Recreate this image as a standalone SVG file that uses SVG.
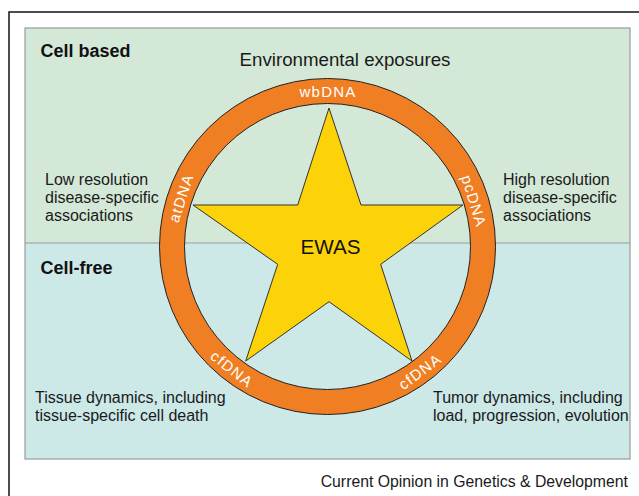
<svg xmlns="http://www.w3.org/2000/svg" width="639" height="496" viewBox="0 0 639 496">
<style>
.t{font-family:"Liberation Sans",Arial,sans-serif;fill:#1a1a1a;font-size:16px}
.b{font-weight:bold;font-size:18px;fill:#111}
.r{font-family:"Liberation Sans",Arial,sans-serif;fill:#ffffff;font-size:15px;letter-spacing:1.2px;text-anchor:middle}
</style>
<rect x="0" y="0" width="639" height="496" fill="#ffffff"/>
<rect x="9" y="12" width="700" height="600" fill="none" stroke="#222" stroke-width="1.6"/>
<g id="panels">
<rect x="25" y="28" width="605" height="215" fill="#d3e8d7"/>
<rect x="25" y="243" width="605" height="216" fill="#cce8e7"/>
<rect x="25" y="28" width="605" height="431" fill="none" stroke="#9a9a9a" stroke-width="1.2"/>
<line x1="25" y1="243" x2="630" y2="243" stroke="#9a9a9a" stroke-width="1.2"/>
</g>
<g id="ring">
<circle cx="327.5" cy="246.5" r="155.5" fill="none" stroke="#f07f24" stroke-width="25"/>
<circle cx="327.5" cy="246.5" r="168" fill="none" stroke="#222" stroke-width="1"/>
<circle cx="327.5" cy="246.5" r="143" fill="none" stroke="#222" stroke-width="1"/>
<text class="r" x="328" y="97.3">wbDNA</text>
<text class="r" transform="translate(181,198) rotate(-72)" y="5.3">atDNA</text>
<text class="r" transform="translate(474,201) rotate(73)" y="5.3">pcDNA</text>
<text class="r" transform="translate(232,369) rotate(38)" y="5.3">cfDNA</text>
<text class="r" transform="translate(420,371.5) rotate(-37)" y="5.3">cfDNA</text>
</g>
<g id="star">
<polygon points="329,108 361,205 463,205 380.7,264.3 412,361 329,301.7 245.7,361 277.7,264.3 193,205 297.7,205" fill="#fcd309" stroke="#333" stroke-width="1" stroke-linejoin="miter"/>
<text class="t" x="330.5" y="253.5" text-anchor="middle" style="font-size:20.7px;fill:#111">EWAS</text>
</g>
<g id="labels">
<text class="t b" x="40.5" y="57">Cell based</text>
<text class="t b" x="40.5" y="274">Cell-free</text>
<text class="t" x="345" y="66" text-anchor="middle" style="font-size:18.7px">Environmental exposures</text>
<text class="t" x="45" y="185.3">Low resolution</text>
<text class="t" x="45" y="203.3">disease-specific</text>
<text class="t" x="45" y="221.3">associations</text>
<text class="t" x="503" y="185.3">High resolution</text>
<text class="t" x="503" y="203.3">disease-specific</text>
<text class="t" x="503" y="221.3">associations</text>
<text class="t" x="35" y="403">Tissue dynamics, including</text>
<text class="t" x="35" y="421">tissue-specific cell death</text>
<text class="t" x="433" y="403">Tumor dynamics, including</text>
<text class="t" x="433" y="421">load, progression, evolution</text>
<text class="t" x="628" y="486.7" text-anchor="end" style="font-size:15.8px">Current Opinion in Genetics &amp; Development</text>
</g>
</svg>
